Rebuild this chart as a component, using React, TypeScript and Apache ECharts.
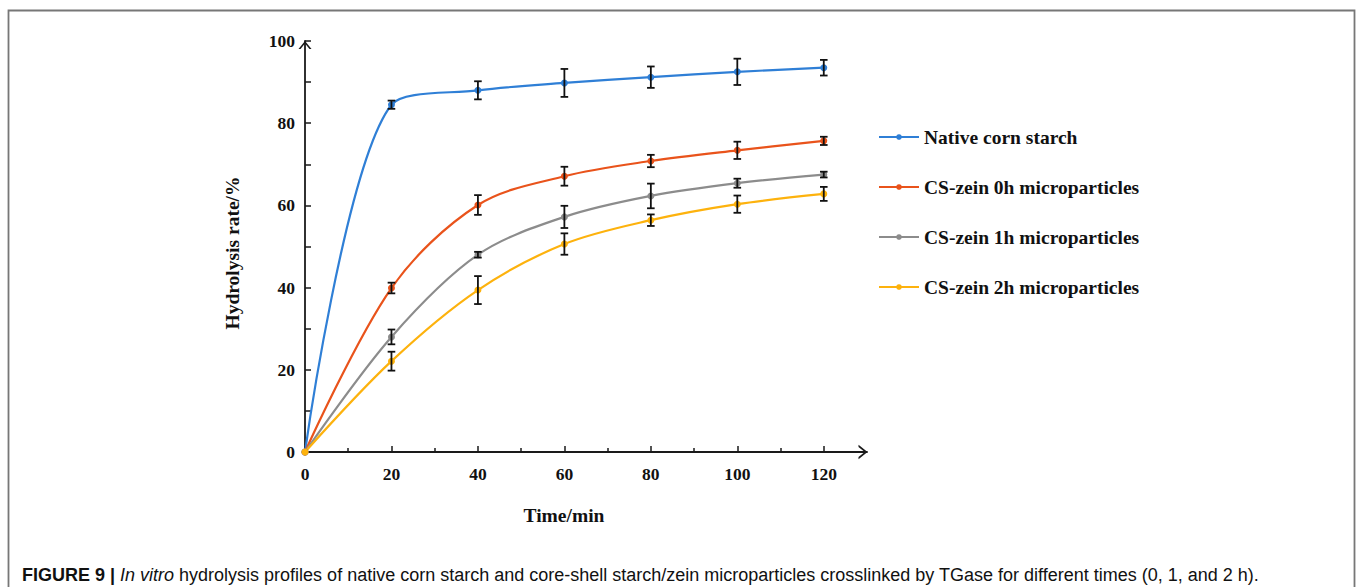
import React, { useEffect, useRef } from "react";
import * as echarts from "echarts";

const timeMin = [0, 20, 40, 60, 80, 100, 120];
const seriesNames = [
  "Native corn starch",
  "CS-zein 0h microparticles",
  "CS-zein 1h microparticles",
  "CS-zein 2h microparticles",
];
const nativeMean = [0, 84.5, 88.0, 89.8, 91.2, 92.5, 93.5];
const nativeErr = [0, 1.0, 2.2, 3.4, 2.6, 3.2, 1.9];
const zein0hMean = [0, 39.9, 60.1, 67.1, 70.8, 73.4, 75.7];
const zein0hErr = [0, 1.3, 2.4, 2.3, 1.5, 2.1, 1.0];
const zein1hMean = [0, 28.0, 48.0, 57.2, 62.3, 65.4, 67.5];
const zein1hErr = [0, 1.8, 0.7, 2.7, 3.0, 1.1, 0.7];
const zein2hMean = [0, 22.1, 39.4, 50.6, 56.4, 60.3, 62.8];
const zein2hErr = [0, 2.3, 3.4, 2.6, 1.4, 2.1, 1.7];
const seriesColors = ["#2f7fd6", "#e9531b", "#8c8c8c", "#fdb20d"];
const xTickValues = [0, 20, 40, 60, 80, 100, 120];
const xMinorTickValues = [10, 30, 50, 70, 90, 110];
const captionBold = "FIGURE 9 | ";
const captionItalic = "In vitro";
const captionRest =
  " hydrolysis profiles of native corn starch and core-shell starch/zein microparticles crosslinked by TGase for different times (0, 1, and 2 h).";

const means = [nativeMean, zein0hMean, zein1hMean, zein2hMean];
const errs = [nativeErr, zein0hErr, zein1hErr, zein2hErr];

const SERIF = "'Liberation Serif', 'Times New Roman', serif";
const SANS = "'Liberation Sans', Arial, sans-serif";
const AXIS_COLOR = "#1a1a1a";
const ARROW_UP = "path://M0,8 L6.5,0 L13,8 L11,8 L6.5,2.46 L2,8 Z";

export default function App() {
  const ref = useRef<HTMLDivElement>(null);

  useEffect(() => {
    if (!ref.current) return;
    const chart = echarts.init(ref.current, null, { renderer: "svg" });

    const lineSeries = seriesNames.map((name, i) => ({
      name,
      type: "line",
      xAxisIndex: 0,
      yAxisIndex: 0,
      smooth: 0.33,
      data: timeMin.map((t, j) => [t, means[i][j]]),
      symbol: "circle",
      symbolSize: 7,
      lineStyle: { color: seriesColors[i], width: 2.2 },
      itemStyle: { color: seriesColors[i] },
      z: 3,
    }));

    const errSeries = seriesNames.map((name, i) => ({
      name: name + " error",
      type: "custom",
      xAxisIndex: 0,
      yAxisIndex: 0,
      z: 5,
      data: timeMin
        .map((t, j) => [t, means[i][j] - errs[i][j], means[i][j] + errs[i][j]])
        .filter((d) => d[2] > d[1]),
      encode: { x: 0, y: [1, 2] },
      renderItem: (params: any, api: any) => {
        const x = api.value(0);
        const lo = api.value(1);
        const hi = api.value(2);
        const pTop = api.coord([x, hi]);
        const pBot = api.coord([x, lo]);
        const w = 3.8;
        const style = { stroke: "#111", lineWidth: 1.8 };
        return {
          type: "group",
          children: [
            { type: "line", shape: { x1: pTop[0], y1: pTop[1], x2: pBot[0], y2: pBot[1] }, style },
            { type: "line", shape: { x1: pTop[0] - w, y1: pTop[1], x2: pTop[0] + w, y2: pTop[1] }, style },
            { type: "line", shape: { x1: pBot[0] - w, y1: pBot[1], x2: pBot[0] + w, y2: pBot[1] }, style },
          ],
        };
      },
    }));

    const labelFont = { fontFamily: SERIF, fontWeight: "bold" as const, fontSize: 17.5, color: "#111" };
    const nameFont = { fontFamily: SERIF, fontWeight: "bold" as const, fontSize: 19.5, color: "#111" };

    chart.setOption({
      animation: false,
      backgroundColor: "#ffffff",
      grid: { left: 305, top: 41, width: 562, height: 411 },
      legend: {
        data: seriesNames,
        orient: "vertical",
        left: 878,
        top: 127,
        padding: 0,
        itemWidth: 40,
        itemHeight: 7,
        itemGap: 30,
        textStyle: { ...nameFont, lineHeight: 20 },
      },
      xAxis: [
        {
          type: "value",
          min: 0,
          max: 130,
          interval: 10,
          name: "Time/min",
          nameLocation: "middle",
          nameGap: 53,
          nameTextStyle: { ...nameFont, padding: [0, 44, 0, 0] },
          axisLine: {
            show: true,
            lineStyle: { color: AXIS_COLOR, width: 1.8 },
            symbol: ["none", ARROW_UP],
            symbolSize: [15, 9],
            symbolOffset: [0, -4],
          },
          axisTick: {
            show: true,
            inside: true,
            length: 6,
            customValues: xTickValues,
            lineStyle: { color: AXIS_COLOR, width: 1.5 },
          },
          axisLabel: { ...labelFont, margin: 13, customValues: xTickValues },
          splitLine: { show: false },
        },
        {
          type: "value",
          min: 0,
          max: 130,
          position: "bottom",
          axisLine: { show: false },
          axisTick: {
            show: true,
            inside: true,
            length: 4,
            customValues: xMinorTickValues,
            lineStyle: { color: AXIS_COLOR, width: 1.5 },
          },
          axisLabel: { show: false },
          splitLine: { show: false },
        },
      ],
      yAxis: {
        type: "value",
        min: 0,
        max: 100,
        interval: 10,
        name: "Hydrolysis rate/%",
        nameLocation: "middle",
        nameGap: 63,
        nameTextStyle: { ...nameFont, padding: [0, 13, 0, 0] },
        axisLine: {
          show: true,
          lineStyle: { color: AXIS_COLOR, width: 1.8 },
          symbol: ["none", ARROW_UP],
          symbolSize: [13, 8],
          symbolOffset: [0, -4],
        },
        axisTick: { show: true, inside: true, length: 6, lineStyle: { color: AXIS_COLOR, width: 1.5 } },
        axisLabel: {
          ...labelFont,
          margin: 10,
          formatter: (v: number) => (v % 20 === 0 ? String(v) : ""),
        },
        splitLine: { show: false },
      },
      graphic: [
        {
          type: "polyline",
          shape: { points: [[8.5, 600], [8.5, 10.5], [1354.5, 10.5], [1354.5, 600]] },
          style: { stroke: "#777", lineWidth: 1.8, fill: "none" },
          silent: true,
        },
        {
          type: "text",
          left: 22,
          top: 566,
          style: {
            text: `{b|${captionBold}}{i|${captionItalic}}{r|${captionRest}}`,
            rich: {
              b: { fontFamily: SANS, fontSize: 18, fontWeight: "bold", fill: "#111" },
              i: { fontFamily: SANS, fontSize: 18, fontStyle: "italic", fill: "#111" },
              r: { fontFamily: SANS, fontSize: 18, fill: "#111" },
            },
          },
        },
      ],
      series: [...lineSeries, ...errSeries],
    });

    return () => chart.dispose();
  }, []);

  return (
    <div
      ref={ref}
      style={{ position: "absolute", left: 0, top: 0, width: 1357, height: 587, background: "#fff" }}
    />
  );
}
